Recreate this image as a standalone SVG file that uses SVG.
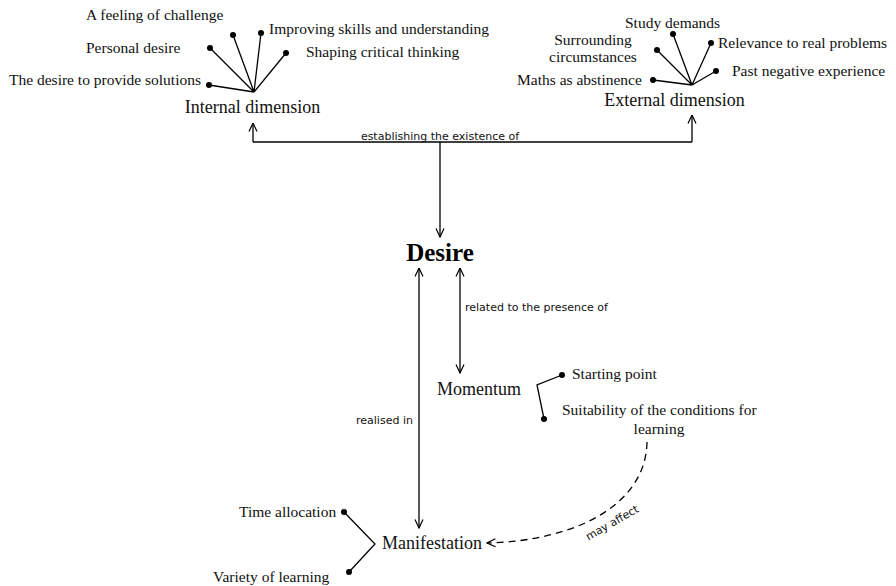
<svg xmlns="http://www.w3.org/2000/svg" width="896" height="586" viewBox="0 0 896 586">
  <defs>
    <marker id="head" viewBox="0 0 10 10" refX="9.5" refY="5" markerWidth="10" markerHeight="10" markerUnits="userSpaceOnUse" orient="auto-start-reverse">
      <path d="M1,1 L9.5,5 L1,9" fill="none" stroke="#000" stroke-width="1.2" stroke-dasharray="none"/>
    </marker>
    <style>
      .lbl { font-family: "Liberation Serif", "Times New Roman", serif; font-size: 15.5px; fill: #111; }
      .big { font-family: "Liberation Serif", "Times New Roman", serif; font-size: 18px; fill: #111; }
      .title { font-family: "Liberation Serif", "Times New Roman", serif; font-size: 25px; font-weight: bold; fill: #000; }
      .edge { font-family: "DejaVu Sans", "Liberation Sans", sans-serif; font-size: 11px; fill: #111; }
      .ln { fill: none; stroke: #000; stroke-width: 1.3; }
      .dot { fill: #000; }
    </style>
  </defs>

  <!-- Internal dimension with its five facets -->
  <g id="internal">
    <path class="ln" d="M254,92 L209,85 M254,92 L210,48 M254,92 L233,35 M254,92 L261,33 M254,92 L286,53"/>
    <circle class="dot" cx="209" cy="85" r="3"/>
    <circle class="dot" cx="210" cy="48" r="3"/>
    <circle class="dot" cx="233" cy="35" r="3"/>
    <circle class="dot" cx="261" cy="33" r="3"/>
    <circle class="dot" cx="286" cy="53" r="3"/>
    <text class="lbl" x="86" y="20">A feeling of challenge</text>
    <text class="lbl" x="86" y="53">Personal desire</text>
    <text class="lbl" x="9" y="85">The desire to provide solutions</text>
    <text class="lbl" x="269" y="34">Improving skills and understanding</text>
    <text class="lbl" x="306" y="57">Shaping critical thinking</text>
    <text class="big" x="252.5" y="113" text-anchor="middle">Internal dimension</text>
  </g>

  <!-- External dimension with its five facets -->
  <g id="external">
    <path class="ln" d="M692,85 L653,80 M692,85 L657,50 M692,85 L673,34 M692,85 L711,43 M692,85 L716,71"/>
    <circle class="dot" cx="653" cy="80" r="3"/>
    <circle class="dot" cx="657" cy="50" r="3"/>
    <circle class="dot" cx="673" cy="34" r="3"/>
    <circle class="dot" cx="711" cy="43" r="3"/>
    <circle class="dot" cx="716" cy="71" r="3"/>
    <text class="lbl" x="625" y="28">Study demands</text>
    <text class="lbl" x="593" y="45" text-anchor="middle">Surrounding</text>
    <text class="lbl" x="593" y="62" text-anchor="middle">circumstances</text>
    <text class="lbl" x="718" y="48">Relevance to real problems</text>
    <text class="lbl" x="732" y="76">Past negative experience</text>
    <text class="lbl" x="517" y="85">Maths as abstinence</text>
    <text class="big" x="674.5" y="106" text-anchor="middle">External dimension</text>
  </g>

  <g id="desire">
    <text class="title" x="440" y="261" text-anchor="middle">Desire</text>
  </g>

  <g id="momentum">
    <path class="ln" d="M562,375 L537,385 L544,419"/>
    <circle class="dot" cx="562" cy="375" r="3"/>
    <circle class="dot" cx="544" cy="419" r="3"/>
    <text class="big" x="437" y="395">Momentum</text>
    <text class="lbl" x="572" y="379">Starting point</text>
    <text class="lbl" x="562" y="415">Suitability of the conditions for</text>
    <text class="lbl" x="659" y="434" text-anchor="middle">learning</text>
  </g>

  <g id="manifestation">
    <path class="ln" d="M344,512 L375,544 L349,572"/>
    <circle class="dot" cx="344" cy="512" r="3"/>
    <circle class="dot" cx="349" cy="572" r="3"/>
    <text class="big" x="382" y="549">Manifestation</text>
    <text class="lbl" x="239" y="517">Time allocation</text>
    <text class="lbl" x="213" y="582">Variety of learning</text>
  </g>

  <!-- Connectors -->
  <g id="connectors">
    <path class="ln" d="M253,142 L692,142"/>
    <path class="ln" d="M253,142 L253,123" marker-end="url(#head)"/>
    <path class="ln" d="M692,142 L692,115" marker-end="url(#head)"/>
    <path class="ln" d="M440,142 L440,237" marker-end="url(#head)"/>
    <text class="edge" x="440" y="140" text-anchor="middle">establishing the existence of</text>

    <path class="ln" d="M460,268 L460,373" marker-start="url(#head)" marker-end="url(#head)"/>
    <text class="edge" x="465" y="311">related to the presence of</text>

    <path class="ln" d="M419,268 L419,528" marker-start="url(#head)" marker-end="url(#head)"/>
    <text class="edge" x="356" y="424">realised in</text>

    <path class="ln" d="M647,442 C646,505 575,541 487,543" stroke-dasharray="7,5" marker-end="url(#head)"/>
    <text class="edge" transform="translate(614,526) rotate(-30)" text-anchor="middle">may affect</text>
  </g>
</svg>
